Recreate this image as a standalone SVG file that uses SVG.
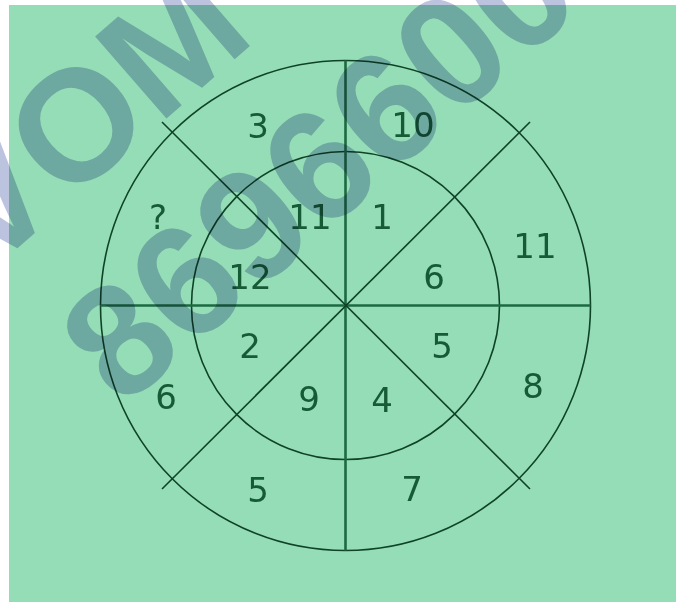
<svg xmlns="http://www.w3.org/2000/svg" width="676" height="602" viewBox="0 0 676 602">
  <style>
    .ring { fill: none; stroke: #0f4327; stroke-width: 1.6; }
    .axis { stroke: #1d6a42; stroke-width: 2.6; }
    .diag { stroke: #0f4327; stroke-width: 1.6; }
    .lbl { font-family: "DejaVu Sans", sans-serif; font-size: 34px; fill: #165a36; text-anchor: middle; }
    .wm { font-family: "Liberation Sans", Arial, sans-serif; font-weight: bold; font-size: 158px; fill: #bcc3df; mix-blend-mode: multiply; }
  </style>
  <rect x="0" y="0" width="676" height="602" fill="#ffffff"/>
  <rect id="background" x="9" y="5" width="667" height="597" fill="#94ddb7"/>

  <g id="wheel">
    <circle id="outer-ring" class="ring" cx="345.5" cy="305.5" r="245"/>
    <circle id="inner-ring" class="ring" cx="345.5" cy="305.5" r="154"/>
    <g id="connectors">
      <line class="axis" x1="345.5" y1="60.5" x2="345.5" y2="550.5"/>
      <line class="axis" x1="100.5" y1="305.5" x2="590.5" y2="305.5"/>
      <line class="diag" x1="162" y1="122" x2="530" y2="489"/>
      <line class="diag" x1="530" y1="122" x2="162" y2="489"/>
    </g>
  </g>

  <g id="labels">
    <text class="lbl" x="258" y="137.5">3</text>
    <text class="lbl" x="413" y="136.5">10</text>
    <text class="lbl" x="158" y="229">?</text>
    <text class="lbl" x="310" y="229">11</text>
    <text class="lbl" x="382" y="229">1</text>
    <text class="lbl" x="535" y="257.5">11</text>
    <text class="lbl" x="250" y="289">12</text>
    <text class="lbl" x="434" y="289">6</text>
    <text class="lbl" x="250" y="357.5">2</text>
    <text class="lbl" x="442" y="357.5">5</text>
    <text class="lbl" x="166" y="409">6</text>
    <text class="lbl" x="309" y="410.5">9</text>
    <text class="lbl" x="382" y="412">4</text>
    <text class="lbl" x="533" y="397.5">8</text>
    <text class="lbl" x="258" y="501.5">5</text>
    <text class="lbl" x="412" y="500.5">7</text>
  </g>

  <g id="watermark">
    <text class="wm" transform="translate(-13.8,275.2) rotate(-41)">VOM</text>
    <text class="wm" transform="translate(122,409.5) rotate(-41)">8696600</text>
  </g>
</svg>
